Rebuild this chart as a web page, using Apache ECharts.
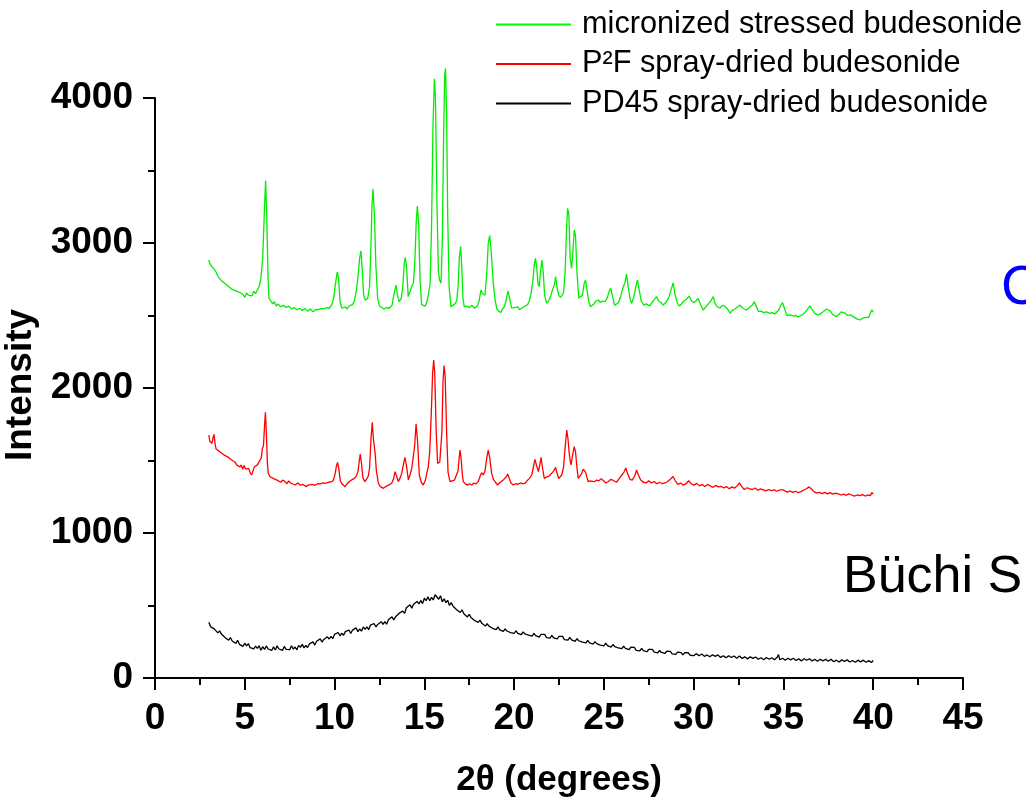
<!DOCTYPE html>
<html>
<head>
<meta charset="utf-8">
<script src="https://cdn.jsdelivr.net/npm/echarts@6/dist/echarts.min.js"></script>
<style>
html,body{margin:0;padding:0;background:#fff;}
#chart{width:1026px;height:800px;}
</style>
</head>
<body>
<div id="chart"></div>
<script>
// ---- data ----
const seriesNames = ['micronized stressed budesonide', 'P\u00B2F spray-dried budesonide', 'PD45 spray-dried budesonide'];
const xTicks = [0, 5, 10, 15, 20, 25, 30, 35, 40, 45];
const yTicks = [0, 1000, 2000, 3000, 4000];
const annotations = ['C', 'B\u00FCchi S'];

const greenData = [
[3.00,2883],[3.05,2860],[3.10,2870],[3.15,2840],[3.22,2845],[3.30,2820],[3.40,2800],[3.50,2770],[3.60,2760],[3.70,2740],
[3.80,2730],[3.90,2720],[4.00,2730],[4.10,2700],[4.20,2705],[4.30,2680],[4.40,2690],[4.50,2670],[4.60,2665],[4.70,2660],
[4.80,2650],[4.90,2645],[5.00,2625],[5.10,2655],[5.20,2640],[5.30,2650],[5.40,2635],[5.50,2668],[5.60,2650],[5.70,2660],
[5.80,2700],[5.90,2760],[6.00,2900],[6.10,3250],[6.16,3430],[6.22,3200],[6.30,2750],[6.35,2620],[6.45,2600],[6.55,2580],
[6.65,2595],[6.75,2565],[6.85,2580],[7.00,2560],[7.15,2570],[7.30,2555],[7.45,2565],[7.60,2545],[7.75,2555],[7.90,2540],
[8.05,2550],[8.20,2535],[8.35,2548],[8.50,2530],[8.65,2545],[8.80,2525],[8.95,2542],[9.10,2540],[9.25,2548],[9.40,2545],
[9.55,2555],[9.70,2550],[9.85,2575],[9.95,2620],[10.05,2720],[10.15,2800],[10.22,2760],[10.30,2600],[10.40,2550],[10.50,2540],
[10.60,2560],[10.70,2545],[10.80,2565],[10.90,2570],[11.00,2575],[11.10,2600],[11.20,2660],[11.30,2760],[11.40,2900],[11.47,2945],
[11.55,2800],[11.62,2640],[11.72,2605],[11.85,2620],[11.95,2700],[12.02,2950],[12.08,3250],[12.14,3372],[12.22,3200],[12.30,2850],
[12.40,2620],[12.50,2565],[12.60,2555],[12.75,2545],[12.90,2555],[13.05,2550],[13.20,2570],[13.30,2640],[13.42,2710],[13.52,2630],
[13.60,2595],[13.72,2620],[13.80,2700],[13.88,2860],[13.94,2901],[14.02,2820],[14.10,2630],[14.20,2640],[14.30,2700],[14.40,2730],
[14.48,2900],[14.55,3150],[14.61,3255],[14.68,3150],[14.76,2750],[14.85,2575],[14.95,2570],[15.05,2565],[15.15,2600],[15.25,2660],
[15.32,2720],[15.40,3100],[15.48,3800],[15.56,4133],[15.62,4000],[15.70,3300],[15.78,2800],[15.85,2745],[15.93,2722],[16.00,3000],
[16.07,3700],[16.13,4150],[16.18,4205],[16.24,3900],[16.30,3200],[16.38,2700],[16.48,2561],[16.58,2565],[16.70,2580],[16.80,2600],
[16.88,2700],[16.95,2900],[17.02,2975],[17.08,2850],[17.15,2620],[17.22,2561],[17.35,2565],[17.50,2555],[17.65,2570],[17.80,2550],
[17.95,2565],[18.05,2600],[18.15,2676],[18.25,2650],[18.38,2640],[18.48,2800],[18.56,3000],[18.64,3051],[18.72,2950],[18.84,2720],
[18.95,2600],[19.05,2540],[19.15,2530],[19.25,2520],[19.35,2545],[19.45,2560],[19.55,2600],[19.65,2669],[19.75,2620],[19.86,2550],
[20.00,2555],[20.10,2545],[20.20,2560],[20.30,2540],[20.42,2550],[20.55,2560],[20.65,2565],[20.75,2575],[20.85,2600],[20.95,2660],
[21.05,2745],[21.12,2850],[21.19,2894],[21.26,2830],[21.33,2720],[21.40,2699],[21.47,2800],[21.55,2883],[21.62,2800],[21.70,2640],
[21.81,2584],[21.92,2600],[22.05,2640],[22.12,2670],[22.20,2680],[22.26,2720],[22.31,2768],[22.38,2700],[22.48,2640],[22.58,2625],
[22.68,2640],[22.76,2660],[22.84,2800],[22.92,3100],[22.98,3239],[23.05,3200],[23.12,2900],[23.20,2825],[23.28,2950],[23.35,3090],
[23.42,3050],[23.50,2800],[23.60,2620],[23.70,2610],[23.80,2640],[23.90,2720],[23.98,2745],[24.06,2680],[24.15,2600],[24.25,2560],
[24.35,2555],[24.45,2580],[24.55,2600],[24.69,2607],[24.80,2590],[24.92,2600],[25.06,2595],[25.18,2620],[25.30,2670],[25.38,2687],
[25.48,2630],[25.60,2570],[25.70,2565],[25.82,2590],[25.95,2640],[26.08,2699],[26.18,2730],[26.26,2786],[26.35,2700],[26.45,2620],
[26.54,2584],[26.65,2620],[26.78,2700],[26.87,2745],[26.96,2680],[27.08,2600],[27.22,2572],[27.35,2580],[27.45,2570],[27.56,2566],
[27.68,2590],[27.80,2610],[27.93,2630],[28.05,2600],[28.18,2590],[28.30,2572],[28.45,2590],[28.60,2620],[28.75,2680],[28.86,2726],
[28.95,2650],[29.08,2590],[29.19,2566],[29.32,2580],[29.45,2600],[29.58,2610],[29.75,2634],[29.88,2600],[30.00,2590],[30.12,2600],
[30.25,2618],[30.40,2570],[30.53,2538],[30.68,2560],[30.82,2580],[30.95,2600],[31.09,2630],[31.20,2580],[31.32,2560],[31.46,2550],
[31.60,2570],[31.72,2565],[31.83,2572],[31.92,2540],[32.02,2515],[32.15,2535],[32.30,2545],[32.45,2560],[32.58,2572],[32.70,2555],
[32.82,2545],[32.95,2538],[33.10,2555],[33.25,2570],[33.38,2595],[33.50,2560],[33.60,2527],[33.75,2530],[33.90,2520],[34.05,2525],
[34.25,2515],[34.40,2520],[34.52,2510],[34.62,2515],[34.75,2540],[34.85,2570],[34.95,2588],[35.08,2540],[35.20,2500],[35.27,2492],
[35.40,2505],[35.55,2495],[35.70,2500],[35.82,2490],[35.92,2492],[36.05,2505],[36.20,2520],[36.35,2545],[36.48,2566],[36.60,2540],
[36.75,2515],[36.94,2503],[37.10,2515],[37.25,2530],[37.40,2545],[37.50,2550],[37.62,2530],[37.75,2505],[37.85,2495],[37.96,2492],
[38.10,2510],[38.22,2525],[38.33,2533],[38.45,2515],[38.58,2500],[38.72,2505],[38.89,2492],[39.00,2480],[39.12,2475],[39.26,2469],
[39.40,2480],[39.52,2485],[39.63,2492],[39.75,2488],[39.85,2500],[39.92,2540],[39.96,2538],[40.00,2522]
];

const redData = [
[3.00,1676],[3.03,1650],[3.06,1630],[3.12,1640],[3.18,1620],[3.24,1660],[3.29,1680],[3.34,1620],[3.40,1580],[3.48,1590],
[3.56,1565],[3.64,1570],[3.72,1550],[3.80,1555],[3.88,1535],[3.96,1540],[4.05,1525],[4.15,1520],[4.25,1505],[4.35,1500],
[4.45,1490],[4.55,1470],[4.64,1480],[4.72,1455],[4.80,1470],[4.88,1440],[4.96,1465],[5.05,1440],[5.14,1430],[5.22,1445],
[5.30,1415],[5.38,1400],[5.46,1430],[5.54,1457],[5.62,1450],[5.70,1470],[5.78,1480],[5.85,1503],[5.92,1520],[5.98,1584],
[6.04,1600],[6.10,1740],[6.15,1832],[6.20,1700],[6.26,1480],[6.31,1411],[6.40,1390],[6.50,1400],[6.60,1375],[6.70,1385],
[6.80,1365],[6.90,1370],[7.00,1350],[7.10,1365],[7.24,1354],[7.35,1340],[7.45,1360],[7.55,1345],[7.65,1350],[7.80,1331],
[7.95,1345],[8.10,1330],[8.25,1335],[8.40,1320],[8.55,1330],[8.63,1324],[8.75,1335],[8.90,1328],[9.05,1340],[9.20,1338],
[9.35,1345],[9.50,1342],[9.65,1350],[9.80,1352],[9.92,1360],[10.02,1400],[10.10,1460],[10.17,1487],[10.24,1440],[10.32,1360],
[10.39,1343],[10.48,1330],[10.58,1319],[10.70,1340],[10.82,1355],[10.95,1366],[11.08,1375],[11.20,1390],[11.30,1420],[11.38,1500],
[11.43,1545],[11.50,1480],[11.58,1380],[11.69,1354],[11.80,1375],[11.88,1393],[11.95,1450],[12.03,1650],[12.10,1763],[12.17,1640],
[12.25,1561],[12.33,1430],[12.44,1343],[12.55,1320],[12.65,1310],[12.72,1308],[12.85,1320],[13.00,1330],[13.18,1343],[13.28,1370],
[13.37,1423],[13.46,1390],[13.55,1354],[13.65,1380],[13.74,1411],[13.83,1470],[13.92,1522],[14.00,1470],[14.11,1366],[14.20,1400],
[14.30,1446],[14.38,1440],[14.46,1600],[14.54,1752],[14.62,1640],[14.72,1400],[14.83,1350],[14.94,1331],[15.05,1360],[15.15,1420],
[15.22,1457],[15.30,1560],[15.38,1800],[15.46,2100],[15.52,2193],[15.58,2100],[15.66,1700],[15.74,1480],[15.78,1469],[15.86,1490],
[15.93,1480],[15.98,1700],[16.04,2050],[16.10,2154],[16.16,2080],[16.24,1700],[16.32,1420],[16.43,1354],[16.55,1360],[16.68,1365],
[16.79,1366],[16.88,1430],[16.94,1520],[16.99,1572],[17.05,1510],[17.12,1400],[17.17,1354],[17.28,1340],[17.40,1330],[17.52,1340],
[17.64,1331],[17.76,1345],[17.88,1338],[18.00,1354],[18.10,1390],[18.19,1416],[18.28,1400],[18.38,1430],[18.48,1520],[18.56,1572],
[18.64,1520],[18.75,1411],[18.85,1370],[18.96,1350],[19.08,1331],[19.18,1345],[19.28,1355],[19.40,1366],[19.50,1360],[19.58,1390],
[19.64,1407],[19.72,1380],[19.82,1345],[19.96,1331],[20.08,1340],[20.20,1335],[20.35,1345],[20.48,1340],[20.61,1343],[20.72,1360],
[20.84,1375],[20.98,1400],[21.08,1460],[21.16,1508],[21.24,1470],[21.35,1423],[21.43,1470],[21.50,1522],[21.58,1450],[21.68,1377],
[21.80,1385],[21.92,1390],[22.02,1400],[22.15,1420],[22.24,1435],[22.31,1453],[22.40,1410],[22.48,1375],[22.55,1366],[22.65,1400],
[22.75,1450],[22.85,1600],[22.93,1710],[23.00,1650],[23.06,1561],[23.12,1500],[23.17,1469],[23.26,1540],[23.35,1595],[23.42,1560],
[23.50,1450],[23.57,1377],[23.66,1380],[23.76,1410],[23.85,1440],[23.91,1453],[23.98,1420],[24.06,1380],[24.13,1354],[24.25,1360],
[24.35,1350],[24.47,1354],[24.60,1365],[24.72,1360],[24.85,1375],[24.98,1360],[25.10,1345],[25.25,1355],[25.40,1370],[25.55,1360],
[25.70,1350],[25.85,1375],[26.00,1400],[26.12,1420],[26.22,1448],[26.32,1410],[26.45,1370],[26.58,1365],[26.72,1395],[26.82,1434],
[26.92,1400],[27.05,1365],[27.20,1350],[27.35,1345],[27.50,1360],[27.65,1345],[27.80,1355],[27.95,1340],[28.10,1350],[28.25,1340],
[28.40,1345],[28.55,1355],[28.70,1370],[28.85,1390],[28.98,1360],[29.12,1335],[29.28,1345],[29.42,1330],[29.58,1340],[29.72,1360],
[29.88,1338],[30.02,1330],[30.18,1342],[30.32,1325],[30.48,1335],[30.62,1320],[30.78,1335],[30.92,1325],[31.08,1315],[31.22,1328],
[31.38,1318],[31.52,1322],[31.68,1310],[31.82,1320],[31.98,1305],[32.12,1318],[32.28,1310],[32.42,1325],[32.55,1345],[32.68,1320],
[32.82,1300],[32.98,1312],[33.12,1305],[33.28,1300],[33.42,1310],[33.58,1295],[33.72,1305],[33.88,1298],[34.02,1290],[34.18,1300],
[34.32,1292],[34.48,1298],[34.62,1288],[34.78,1295],[34.92,1300],[35.08,1290],[35.22,1282],[35.38,1290],[35.52,1280],[35.68,1288],
[35.82,1278],[35.98,1285],[36.12,1295],[36.28,1305],[36.42,1318],[36.55,1305],[36.70,1285],[36.85,1275],[37.00,1280],[37.15,1272],
[37.30,1280],[37.45,1270],[37.60,1278],[37.75,1268],[37.90,1275],[38.05,1270],[38.20,1262],[38.35,1268],[38.50,1260],[38.65,1270],
[38.80,1262],[38.95,1255],[39.10,1262],[39.25,1258],[39.40,1265],[39.55,1255],[39.70,1262],[39.85,1258],[39.92,1280],[40.00,1268]
];

const blackData = [
[3.0,385],[3.1,353],[3.2,363],[3.3,339],[3.4,347],[3.5,311],[3.6,325],[3.7,303],[3.8,312],[3.9,279],
[4.0,286],[4.1,261],[4.2,279],[4.3,255],[4.4,258],[4.5,238],[4.6,260],[4.7,232],[4.8,242],[4.9,218],
[5.0,240],[5.1,222],[5.2,237],[5.3,209],[5.4,221],[5.5,201],[5.6,220],[5.7,204],[5.8,222],[5.9,192],
[6.0,216],[6.1,197],[6.2,221],[6.3,200],[6.4,207],[6.5,190],[6.6,215],[6.7,193],[6.8,222],[6.9,200],
[7.0,212],[7.1,190],[7.2,218],[7.3,198],[7.4,208],[7.5,195],[7.6,222],[7.7,199],[7.8,214],[7.9,194],
[8.0,225],[8.1,211],[8.2,232],[8.3,208],[8.4,224],[8.5,210],[8.6,235],[8.7,224],[8.8,249],[8.9,227],
[9.0,253],[9.1,245],[9.2,270],[9.3,248],[9.4,266],[9.5,254],[9.6,284],[9.7,269],[9.8,287],[9.9,271],
[10.0,301],[10.1,290],[10.2,314],[10.3,291],[10.4,309],[10.5,295],[10.6,320],[10.7,308],[10.8,331],[10.9,307],
[11.0,330],[11.1,322],[11.2,346],[11.3,320],[11.4,338],[11.5,323],[11.6,352],[11.7,336],[11.8,352],[11.9,333],
[12.0,365],[12.1,352],[12.2,376],[12.3,353],[12.4,369],[12.5,357],[12.6,388],[12.7,370],[12.8,389],[12.9,371],
[13.0,402],[13.1,392],[13.2,422],[13.3,400],[13.4,423],[13.5,411],[13.6,447],[13.7,435],[13.8,461],[13.9,445],
[14.0,484],[14.1,474],[14.2,505],[14.3,482],[14.4,508],[14.5,495],[14.6,528],[14.7,511],[14.8,535],[14.9,513],
[15.0,550],[15.1,533],[15.2,561],[15.3,533],[15.4,556],[15.5,538],[15.6,574],[15.7,585],[15.8,543],[15.9,567],
[16.0,526],[16.1,546],[16.2,520],[16.3,536],[16.4,500],[16.5,520],[16.6,495],[16.7,507],[16.8,471],[16.9,480],
[17.0,452],[17.1,470],[17.2,443],[17.3,452],[17.4,421],[17.5,439],[17.6,417],[17.7,429],[17.8,397],[17.9,407],
[18.0,383],[18.1,399],[18.2,377],[18.3,388],[18.4,358],[18.5,374],[18.6,358],[18.7,370],[18.8,343],[18.9,353],
[19.0,334],[19.1,352],[19.2,332],[19.3,344],[19.4,321],[19.5,339],[19.6,324],[19.7,337],[19.8,313],[19.9,325],
[20.0,307],[20.1,326],[20.2,308],[20.3,321],[20.4,299],[20.5,318],[20.6,304],[20.7,317],[20.8,295],[20.9,306],
[21.0,289],[21.1,308],[21.2,292],[21.3,302],[21.4,282],[21.5,301],[21.6,288],[21.7,301],[21.8,279],[21.9,290],
[22.0,275],[22.1,294],[22.2,276],[22.3,289],[22.4,269],[22.5,287],[22.6,274],[22.7,287],[22.8,265],[22.9,277],
[23.0,262],[23.1,280],[23.2,263],[23.3,273],[23.4,253],[23.5,271],[23.6,257],[23.7,269],[23.8,247],[23.9,258],
[24.0,242],[24.1,260],[24.2,242],[24.3,254],[24.4,233],[24.5,251],[24.6,237],[24.7,249],[24.8,227],[24.9,238],
[25.0,222],[25.1,240],[25.2,223],[25.3,233],[25.4,213],[25.5,231],[25.6,217],[25.7,229],[25.8,207],[25.9,218],
[26.0,202],[26.1,219],[26.2,204],[26.3,214],[26.4,196],[26.5,212],[26.6,199],[26.7,211],[26.8,191],[26.9,202],
[27.0,187],[27.1,204],[27.2,189],[27.3,199],[27.4,181],[27.5,198],[27.6,185],[27.7,197],[27.8,178],[27.9,188],
[28.0,174],[28.1,190],[28.2,176],[28.3,186],[28.4,169],[28.5,185],[28.6,173],[28.7,184],[28.8,166],[28.9,177],
[29.0,163],[29.1,179],[29.2,166],[29.3,175],[29.4,159],[29.5,175],[29.6,163],[29.7,174],[29.8,157],[29.9,167],
[30.0,154],[30.15,168],[30.30,153],[30.45,166],[30.60,149],[30.75,159],[30.90,146],[31.05,160],[31.20,149],[31.35,159],
[31.50,142],[31.65,153],[31.80,139],[31.95,153],[32.10,141],[32.25,152],[32.40,137],[32.55,152],[32.70,135],[32.85,146],
[33.00,132],[33.15,146],[33.30,135],[33.45,145],[33.60,129],[33.75,140],[33.90,126],[34.05,141],[34.20,129],[34.35,140],
[34.50,126],[34.65,143],[34.72,161],[34.80,126],[34.95,136],[35.10,122],[35.25,136],[35.40,125],[35.55,136],[35.70,121],
[35.85,132],[36.00,118],[36.15,133],[36.30,122],[36.45,133],[36.60,117],[36.75,129],[36.90,115],[37.05,129],[37.20,118],
[37.35,129],[37.50,115],[37.65,129],[37.80,112],[37.95,123],[38.10,110],[38.25,125],[38.40,114],[38.55,125],[38.70,110],
[38.85,121],[39.00,108],[39.15,123],[39.30,111],[39.45,123],[39.60,109],[39.75,120],[39.90,107],[40.00,122]
];

// ---- chart ----
const FONT = '"Liberation Sans", Arial, sans-serif';
const chart = echarts.init(document.getElementById('chart'), null, {renderer: 'canvas'});
chart.setOption({
  animation: false,
  backgroundColor: '#ffffff',
  grid: {left: 155, right: 63, top: 98, bottom: 122, containLabel: false, outerBoundsMode: 'none'},
  legend: {
    orient: 'vertical',
    left: 496,
    top: 9,
    padding: 0,
    itemWidth: 75,
    itemHeight: 2,
    itemGap: 8.5,
    icon: 'rect',
    data: seriesNames,
    textStyle: {fontFamily: FONT, fontSize: 30.7, color: '#000', lineHeight: 31, padding: [0, 0, 0, 6]}
  },
  xAxis: {
    type: 'value',
    min: 0, max: 45, interval: 5,
    name: '2\u03B8 (degrees)',
    nameLocation: 'middle',
    nameGap: 85,
    nameTextStyle: {fontFamily: FONT, fontSize: 35, fontWeight: 'bold', color: '#000'},
    axisLine: {show: true, onZero: false, lineStyle: {color: '#000', width: 2}},
    axisTick: {show: true, inside: false, length: 12, lineStyle: {color: '#000', width: 2}},
    minorTick: {show: true, splitNumber: 2, length: 7, lineStyle: {color: '#000', width: 2}},
    axisLabel: {
      margin: 22, fontFamily: FONT, fontSize: 37, fontWeight: 'bold', color: '#000',
      formatter: function (v) { return xTicks.indexOf(v) >= 0 ? String(v) : ''; }
    },
    splitLine: {show: false}
  },
  yAxis: {
    type: 'value',
    min: 0, max: 4000, interval: 1000,
    name: 'Intensity',
    nameLocation: 'middle',
    nameGap: 104,
    nameTextStyle: {fontFamily: FONT, fontSize: 37, fontWeight: 'bold', color: '#000', padding: [0, 0, 0, 6]},
    axisLine: {show: true, onZero: false, lineStyle: {color: '#000', width: 2}},
    axisTick: {show: true, inside: false, length: 12, lineStyle: {color: '#000', width: 2}},
    minorTick: {show: true, splitNumber: 2, length: 7, lineStyle: {color: '#000', width: 2}},
    axisLabel: {
      margin: 22, fontFamily: FONT, fontSize: 37, fontWeight: 'bold', color: '#000',
      formatter: function (v) { return yTicks.indexOf(v) >= 0 ? String(v) : ''; }
    },
    splitLine: {show: false}
  },
  series: [
    {name: seriesNames[2], type: 'line', data: blackData, showSymbol: false, symbol: 'none',
     color: '#000000', lineStyle: {color: '#000000', width: 1.3}, clip: false, z: 2},
    {name: seriesNames[1], type: 'line', data: redData, showSymbol: false, symbol: 'none',
     color: '#ff0000', lineStyle: {color: '#ff0000', width: 1.3}, clip: false, z: 3},
    {name: seriesNames[0], type: 'line', data: greenData, showSymbol: false, symbol: 'none',
     color: '#00ff00', lineStyle: {color: '#00ee00', width: 1.3}, clip: false, z: 4}
  ],
  graphic: [
    {type: 'text', left: 1001, top: 261, silent: true,
     style: {text: annotations[0], fontFamily: FONT, fontSize: 55, fill: '#0000ff'}},
    {type: 'text', left: 843, top: 552, silent: true,
     style: {text: annotations[1], fontFamily: FONT, fontSize: 52, fill: '#000000'}}
  ]
});
</script>
</body>
</html>
